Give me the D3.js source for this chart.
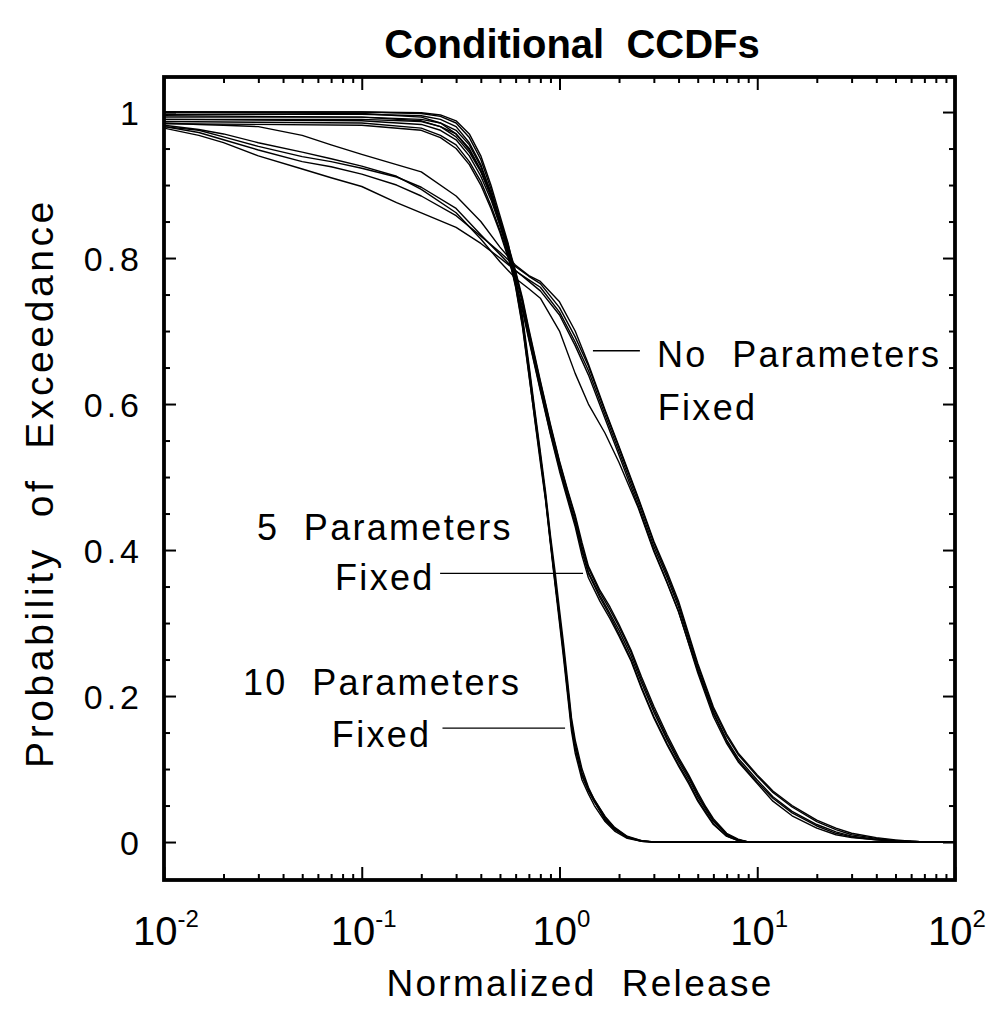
<!DOCTYPE html>
<html><head><meta charset="utf-8">
<script src="https://cdn.jsdelivr.net/npm/d3@7"></script>
<style>
body{margin:0;background:#fff;}
svg text{font-family:"Liberation Sans",Arial,Helvetica,sans-serif;white-space:pre;fill:#000;}
</style></head><body>
<svg id="c" width="989" height="1009"></svg>
<script>
// ---------- DATA ----------
// 10 parameters fixed (release grid and 5 replicate CCDFs)
const xTen = [0.01,0.1,0.2,0.25,0.3,0.35,0.4,0.45,0.5,0.55,0.6,0.65,0.7,0.75,0.8,0.85,0.9,0.95,1.0,1.05,1.1,1.15,1.2,1.3,1.4,1.5,1.7,1.9,2.2,2.6,3.0,100];
const pTen = [
 [1.0,1.0,0.998,0.994,0.985,0.965,0.935,0.895,0.853,0.815,0.768,0.715,0.648,0.585,0.528,0.475,0.415,0.36,0.31,0.26,0.21,0.16,0.13,0.09,0.07,0.055,0.032,0.018,0.006,0.001,0,0],
 [1.0,1.0,0.999,0.996,0.988,0.97,0.94,0.9,0.858,0.82,0.772,0.72,0.655,0.592,0.535,0.48,0.42,0.37,0.318,0.27,0.22,0.17,0.14,0.1,0.075,0.058,0.035,0.02,0.008,0.002,0,0],
 [0.997,0.997,0.995,0.99,0.98,0.958,0.928,0.888,0.848,0.808,0.762,0.708,0.642,0.578,0.52,0.468,0.408,0.352,0.3,0.25,0.2,0.152,0.122,0.085,0.066,0.05,0.028,0.015,0.005,0.001,0,0],
 [0.993,0.993,0.99,0.985,0.975,0.955,0.925,0.89,0.85,0.812,0.765,0.712,0.65,0.588,0.53,0.472,0.412,0.358,0.305,0.256,0.205,0.158,0.128,0.092,0.072,0.056,0.03,0.017,0.007,0.001,0,0],
 [0.99,0.99,0.987,0.98,0.97,0.95,0.92,0.884,0.845,0.806,0.76,0.705,0.64,0.58,0.525,0.47,0.41,0.355,0.308,0.262,0.212,0.165,0.135,0.095,0.073,0.058,0.034,0.019,0.007,0.002,0,0]
];
// 5 parameters fixed
const xFive = [0.01,0.1,0.2,0.25,0.3,0.35,0.4,0.45,0.5,0.55,0.6,0.65,0.7,0.8,0.9,1.0,1.1,1.2,1.3,1.4,1.6,1.8,2.0,2.3,2.6,3.0,3.5,4.0,4.5,5.0,5.5,6.0,7.0,8.0,9.0];
const pFive = [
 [0.99,0.988,0.983,0.975,0.962,0.94,0.912,0.88,0.845,0.81,0.775,0.738,0.695,0.625,0.565,0.515,0.475,0.44,0.4,0.37,0.338,0.313,0.29,0.255,0.218,0.178,0.14,0.11,0.087,0.062,0.044,0.028,0.01,0.003,0],
 [0.995,0.993,0.988,0.98,0.966,0.945,0.918,0.886,0.85,0.815,0.78,0.742,0.7,0.63,0.57,0.52,0.48,0.445,0.405,0.375,0.342,0.318,0.295,0.26,0.222,0.182,0.143,0.113,0.09,0.065,0.046,0.03,0.011,0.003,0],
 [0.987,0.985,0.978,0.968,0.955,0.932,0.905,0.872,0.838,0.803,0.768,0.732,0.69,0.62,0.56,0.512,0.472,0.436,0.398,0.368,0.335,0.31,0.285,0.25,0.212,0.172,0.135,0.106,0.083,0.058,0.041,0.025,0.008,0.002,0],
 [1.0,0.998,0.993,0.985,0.97,0.948,0.92,0.888,0.852,0.818,0.782,0.745,0.703,0.632,0.572,0.522,0.482,0.448,0.41,0.378,0.345,0.322,0.298,0.263,0.226,0.186,0.147,0.116,0.092,0.068,0.048,0.032,0.012,0.004,0],
 [0.984,0.982,0.975,0.965,0.95,0.928,0.9,0.868,0.835,0.8,0.765,0.728,0.688,0.618,0.558,0.508,0.468,0.432,0.392,0.362,0.33,0.306,0.282,0.248,0.21,0.17,0.133,0.104,0.08,0.056,0.039,0.024,0.008,0.002,0]
];
// No parameters fixed
const xNone = [0.01,0.015,0.02,0.03,0.05,0.07,0.1,0.15,0.2,0.3,0.4,0.5,0.6,0.7,0.8,1.0,1.2,1.4,1.7,2.0,2.5,3.0,3.5,4.0,5.0,6.0,7.0,8.0,10,12,15,20,25,30,40,50,60,70];
const pNone = [
 [0.98,0.975,0.966,0.953,0.939,0.932,0.923,0.911,0.897,0.868,0.832,0.805,0.782,0.77,0.76,0.726,0.685,0.646,0.585,0.535,0.465,0.405,0.362,0.322,0.238,0.178,0.14,0.115,0.085,0.062,0.042,0.024,0.014,0.008,0.004,0.002,0.001,0],
 [0.978,0.968,0.958,0.94,0.922,0.91,0.898,0.876,0.862,0.842,0.82,0.8,0.783,0.768,0.755,0.722,0.68,0.64,0.58,0.53,0.46,0.4,0.356,0.316,0.232,0.172,0.135,0.11,0.08,0.056,0.036,0.019,0.01,0.006,0.003,0.001,0,0],
 [0.985,0.983,0.982,0.98,0.968,0.955,0.942,0.928,0.918,0.885,0.85,0.815,0.79,0.776,0.768,0.74,0.7,0.655,0.592,0.542,0.472,0.412,0.37,0.33,0.245,0.185,0.148,0.122,0.092,0.07,0.05,0.03,0.019,0.012,0.006,0.003,0.001,0],
 [0.982,0.976,0.97,0.958,0.945,0.936,0.926,0.912,0.894,0.862,0.826,0.795,0.772,0.758,0.745,0.7,0.642,0.6,0.56,0.52,0.458,0.398,0.355,0.315,0.235,0.176,0.138,0.112,0.082,0.06,0.04,0.022,0.012,0.007,0.003,0.001,0,0],
 [0.98,0.972,0.962,0.948,0.932,0.925,0.915,0.9,0.885,0.858,0.83,0.808,0.788,0.775,0.765,0.732,0.692,0.652,0.59,0.54,0.47,0.41,0.366,0.326,0.242,0.182,0.145,0.12,0.09,0.068,0.048,0.028,0.017,0.01,0.005,0.002,0.001,0]
];
// axis ticks
const yMajor = [0,0.2,0.4,0.6,0.8,1.0];
const yTickLabels = ["0","0.2","0.4","0.6","0.8","1"];
const yMinor = [0.05,0.1,0.15,0.25,0.3,0.35,0.45,0.5,0.55,0.65,0.7,0.75,0.85,0.9,0.95];
const xMajor = [0.01,0.1,1,10,100];
const xTickExps = ["-2","-1","0","1","2"];

// ---------- CHART ----------
const L=164,R=955,T=77,B=880;
const svg=d3.select("#c");
const x=d3.scaleLog().domain([0.01,100]).range([L,R]);
const y=d3.scaleLinear().domain([-0.052,1.048]).range([B,T]);

svg.append("defs").append("clipPath").attr("id","clip")
  .append("rect").attr("x",L).attr("y",T).attr("width",R-L).attr("height",B-T);

const line=d3.line().x(d=>x(d[0])).y(d=>y(d[1]));
const curves=svg.append("g").attr("clip-path","url(#clip)");
function drawGroup(xs,ps){
  ps.forEach(p=>{
    curves.append("path").datum(xs.map((v,i)=>[v,p[i]]))
      .attr("d",line).attr("fill","none").attr("stroke","#000").attr("stroke-width",1.4)
      .attr("stroke-linejoin","round");
  });
}
drawGroup(xTen,pTen);
drawGroup(xFive,pFive);
drawGroup(xNone,pNone);

// minor log ticks
const xMinor=[];
[0.01,0.1,1,10].forEach(d=>{for(let k=2;k<=9;k++)xMinor.push(d*k);});

// y axes (ticks inward)
const axL=svg.append("g").attr("transform",`translate(${L},0)`)
  .call(d3.axisLeft(y).tickValues(yMajor).tickSize(-12).tickPadding(21).tickFormat((d,i)=>yTickLabels[i]));
svg.append("g").attr("transform",`translate(${L},0)`)
  .call(d3.axisLeft(y).tickValues(yMinor).tickSize(-6).tickFormat(""));
svg.append("g").attr("transform",`translate(${R},0)`)
  .call(d3.axisRight(y).tickValues(yMajor).tickSize(-12).tickFormat(""));
svg.append("g").attr("transform",`translate(${R},0)`)
  .call(d3.axisRight(y).tickValues(yMinor).tickSize(-6).tickFormat(""));
axL.selectAll("text").style("font-size","34px").style("letter-spacing","4px").attr("dy","0.36em");

// x axes
svg.append("g").attr("transform",`translate(0,${B})`)
  .call(d3.axisBottom(x).tickValues(xMajor).tickSize(-13).tickFormat(""));
svg.append("g").attr("transform",`translate(0,${B})`)
  .call(d3.axisBottom(x).tickValues(xMinor).tickSize(-6).tickFormat(""));
svg.append("g").attr("transform",`translate(0,${T})`)
  .call(d3.axisTop(x).tickValues(xMajor).tickSize(-13).tickFormat(""));
svg.append("g").attr("transform",`translate(0,${T})`)
  .call(d3.axisTop(x).tickValues(xMinor).tickSize(-6).tickFormat(""));
svg.selectAll(".domain").remove();
svg.selectAll(".tick line").attr("stroke","#000").attr("stroke-width",2);

// x tick labels
xMajor.forEach((v,i)=>{
  const t=svg.append("text").attr("x",x(v)+2).attr("y",945).attr("text-anchor","middle")
    .style("font-size","40px");
  t.append("tspan").text("10");
  t.append("tspan").attr("dy",-18).style("font-size","24px").text(xTickExps[i]);
});

// frame
svg.append("rect").attr("x",L).attr("y",T).attr("width",R-L).attr("height",B-T)
  .attr("fill","none").attr("stroke","#000").attr("stroke-width",3.8);

// titles
svg.append("text").attr("x",572).attr("y",58).attr("text-anchor","middle")
  .style("font-size","40px").style("font-weight","bold").text("Conditional  CCDFs");
svg.append("text").attr("x",580).attr("y",996).attr("text-anchor","middle")
  .style("font-size","37px").style("letter-spacing","2.3px").text("Normalized  Release");
svg.append("text").attr("transform","translate(53,483) rotate(-90)").attr("text-anchor","middle")
  .style("font-size","39px").style("letter-spacing","3.6px").text("Probability  of  Exceedance");

// annotations
const ann=svg.append("g").style("font-size","36px").style("letter-spacing","2.3px");
function label(lines,x0,x1,y0,y1,lx0,lx1,ly){
  ann.append("text").attr("x",x(x0)).attr("y",y(y0)).text(lines[0]);
  ann.append("text").attr("x",x(x1)).attr("y",y(y1)).text(lines[1]);
  svg.append("line").attr("x1",x(lx0)).attr("x2",x(lx1)).attr("y1",y(ly)).attr("y2",y(ly))
    .attr("stroke","#000").attr("stroke-width",1.3);
}
label(["5  Parameters","Fixed"],0.0295,0.0733,0.414,0.345,0.249,1.315,0.368);
label(["10  Parameters","Fixed"],0.0251,0.0706,0.201,0.130,0.256,1.067,0.156);
label(["No  Parameters","Fixed"],3.11,3.14,0.651,0.578,1.476,2.55,0.673);
</script>
</body></html>
